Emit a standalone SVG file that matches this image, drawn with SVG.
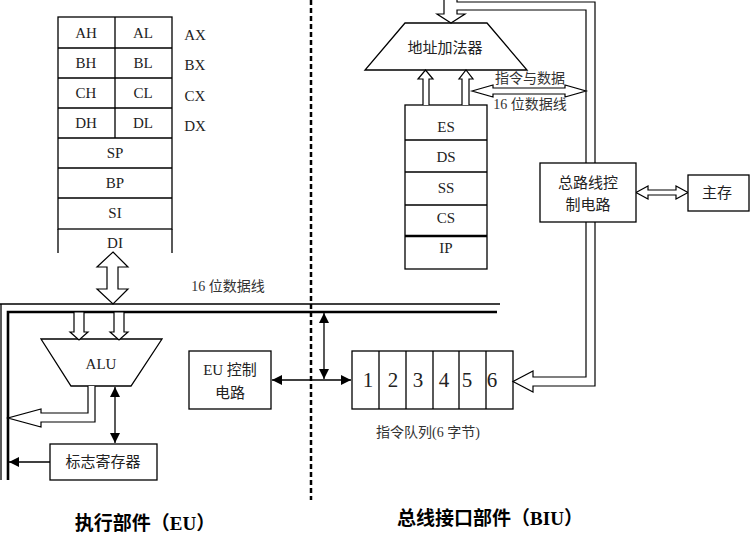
<svg xmlns="http://www.w3.org/2000/svg" width="750" height="542" viewBox="0 0 750 542">
<style>
.b{fill:#fff;stroke:#000;stroke-width:1.3}
.l{fill:none;stroke:#000;stroke-width:1.3}
.h{fill:#fff;stroke:#000;stroke-width:1.2;stroke-linejoin:miter}
.t{font-family:"Liberation Serif","Noto Sans CJK SC",serif;font-size:15px;fill:#222;text-anchor:middle;dominant-baseline:central}
.c{font-family:"Liberation Serif","Noto Sans CJK SC",serif;font-size:14px;fill:#333;text-anchor:middle;dominant-baseline:central}
.n{font-family:"Liberation Serif",serif;font-size:21px;fill:#222;text-anchor:middle;dominant-baseline:central}
.ti{font-family:"Liberation Serif","Noto Sans CJK SC",serif;font-size:19px;font-weight:bold;fill:#000;text-anchor:middle}
</style>
<defs>
<marker id="ah" viewBox="0 0 10 10" refX="10" refY="5" markerWidth="10" markerHeight="10" markerUnits="userSpaceOnUse" orient="auto-start-reverse">
<path d="M0,0 L10,5 L0,10 z" fill="#000"/>
</marker>
</defs>

<g id="divider">
<line x1="311" y1="0" x2="311" y2="500" stroke="#000" stroke-width="2.5" stroke-dasharray="5 3"/>
</g>

<g id="eu-registers">
<rect class="b" x="58" y="17" width="114" height="212"/>
<path class="l" d="M58,229 V253 M172,229 V253"/>
<path class="l" d="M58,48 H172 M58,78 H172 M58,108 H172 M58,138 H172 M58,168 H172 M58,198 H172 M115,17 V138"/>
<text class="t" x="86" y="33">AH</text><text class="t" x="143" y="33">AL</text>
<text class="t" x="86" y="63">BH</text><text class="t" x="143" y="63">BL</text>
<text class="t" x="86" y="93">CH</text><text class="t" x="143" y="93">CL</text>
<text class="t" x="86" y="123">DH</text><text class="t" x="143" y="123">DL</text>
<text class="t" x="115" y="153">SP</text>
<text class="t" x="115" y="183">BP</text>
<text class="t" x="115" y="213">SI</text>
<text class="t" x="115" y="243">DI</text>
<text class="t" x="195" y="35">AX</text>
<text class="t" x="195" y="65">BX</text>
<text class="t" x="195" y="96">CX</text>
<text class="t" x="195" y="126">DX</text>
</g>

<g id="alu">
<path class="b" d="M41,339 H162 L131,386 H71 Z"/>
<text class="t" x="101" y="364">ALU</text>
</g>

<g id="flags">
<rect class="b" x="50" y="444" width="107" height="36"/>
<text class="t" x="103" y="462">标志寄存器</text>
</g>

<g id="eu-control">
<rect class="b" x="189" y="351" width="82" height="58"/>
<text class="t" x="230" y="370">EU 控制</text>
<text class="t" x="230" y="393">电路</text>
</g>

<g id="queue">
<rect class="b" x="352" y="351" width="161" height="58"/>
<path class="l" d="M379,351 V409 M406,351 V409 M433,351 V409 M459,351 V409 M486,351 V409"/>
<text class="n" x="368" y="380">1</text>
<text class="n" x="393" y="380">2</text>
<text class="n" x="418" y="380">3</text>
<text class="n" x="444" y="380">4</text>
<text class="n" x="467" y="380">5</text>
<text class="n" x="492" y="380">6</text>
<text class="c" x="428" y="432">指令队列(6 字节)</text>
</g>

<g id="address-adder">
<path class="b" d="M405,23 H487 L527,70 H365 Z"/>
<text class="t" x="445" y="48">地址加法器</text>
</g>

<g id="segment-registers">
<rect class="b" x="405" y="105" width="82" height="164"/>
<path class="l" d="M405,140 H487 M405,172 H487 M405,205 H487"/>
<line x1="405" y1="236" x2="487" y2="236" stroke="#000" stroke-width="2.5"/>
<text class="t" x="446" y="127">ES</text>
<text class="t" x="446" y="157">DS</text>
<text class="t" x="446" y="188">SS</text>
<text class="t" x="446" y="218">CS</text>
<text class="t" x="446" y="248">IP</text>
</g>

<g id="connectors">
<!-- EU internal bus -->
<path class="l" d="M0,304 H500 M1,304 V480"/>
<path d="M8,480 V312 H497" fill="none" stroke="#000" stroke-width="2.6"/>
<text class="c" x="228" y="286">16 位数据线</text>
<!-- register file to bus -->
<path class="h" d="M113,252 L128,267 H118 V289 H128 L113,304 L97,289 H107 V267 H97 Z"/>
<!-- bus to ALU -->
<path class="h" d="M74,312 H84 V332 H88 L79,340 L70,332 H74 Z"/>
<path class="h" d="M114,312 H124 V332 H128 L119,340 L110,332 H114 Z"/>
<!-- ALU output -->
<path class="h" d="M88,386 V413 H41 V409 L8,418 L41,427 V422 H95 V386"/>
<!-- ALU <-> flags -->
<line class="l" x1="115" y1="387" x2="115" y2="443" marker-start="url(#ah)" marker-end="url(#ah)"/>
<!-- flags -> bus -->
<line class="l" x1="50" y1="462" x2="9" y2="462" marker-end="url(#ah)"/>
<!-- EU control <-> queue -->
<line class="l" x1="272" y1="380" x2="351" y2="380" marker-start="url(#ah)" marker-end="url(#ah)"/>
<line class="l" x1="324" y1="313" x2="324" y2="379" marker-start="url(#ah)" marker-end="url(#ah)"/>
<!-- BIU pipe: bus control to adder and queue -->
<path class="h" d="M444,0 V14 H437 L451,23 L465,14 H457 V10 H586 V377 H533 V371 L513,381.5 L533,392 V386 H595 V2 H457 V0"/>
<!-- segment regs to adder -->
<path class="h" d="M423,105 V79 H418 L425.5,70 L433,79 H429 V105"/>
<path class="h" d="M462,105 V79 H459 L466,70 L473,79 H469 V105"/>
<!-- data arrow -->
<path class="h" d="M472,91 L493,85 V88 H565 V85 L586,91 L565,97 V94 H493 V97 Z"/>
<text class="c" x="530" y="78">指令与数据</text>
<text class="c" x="530" y="104">16 位数据线</text>
<!-- bus control <-> memory -->
<path class="h" d="M636,192.5 L648,186 V190 H676 V186 L688,192.5 L676,199 V195 H648 V199 Z"/>
</g>

<g id="bus-control">
<rect class="b" x="540" y="163" width="96" height="59"/>
<text class="t" x="588" y="183">总路线控</text>
<text class="t" x="588" y="205">制电路</text>
</g>

<g id="memory">
<rect class="b" x="688" y="175" width="61" height="36"/>
<text class="t" x="717" y="193">主存</text>
</g>

<g id="titles">
<text class="ti" x="145" y="530">执行部件（EU）</text>
<text class="ti" x="490" y="525">总线接口部件（BIU）</text>
</g>
</svg>
